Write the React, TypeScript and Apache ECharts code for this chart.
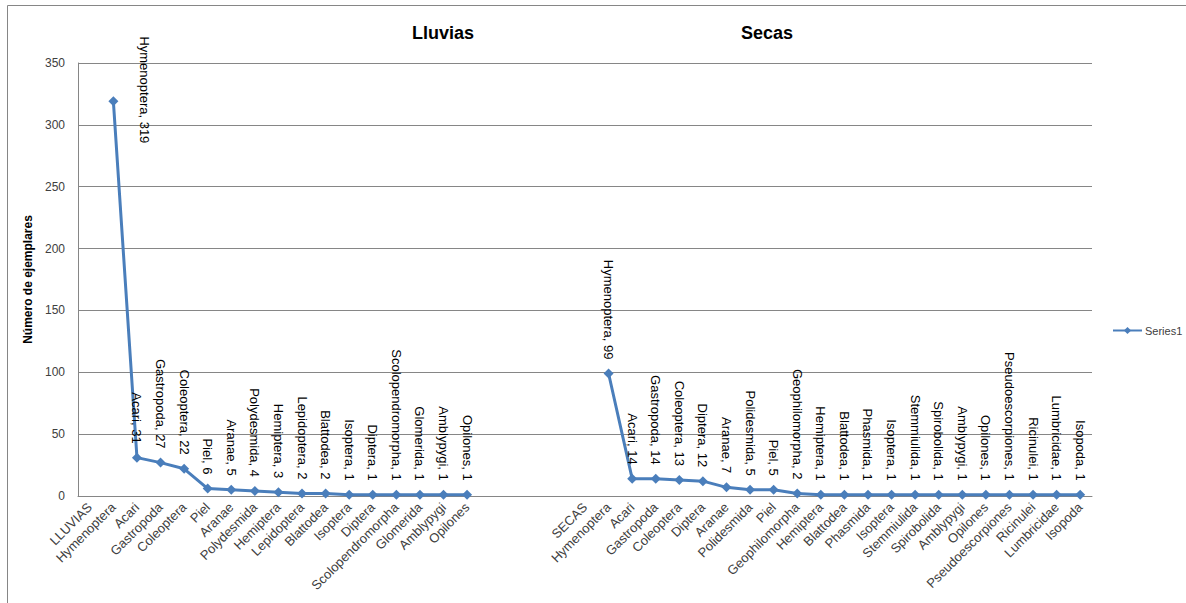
import React, { useEffect, useRef } from "react";
import * as echarts from "echarts";

// Rainy-season (lluvias) taxa and specimen counts
const lluviasCategories = [
  "LLUVIAS", "Hymenoptera", "Acari", "Gastropoda", "Coleoptera", "Piel", "Aranae",
  "Polydesmida", "Hemiptera", "Lepidoptera", "Blattodea", "Isoptera", "Diptera",
  "Scolopendromorpha", "Glomerida", "Amblypygi", "Opilones",
];
const lluviasValues: (number | null)[] = [
  null, 319, 31, 27, 22, 6, 5, 4, 3, 2, 2, 1, 1, 1, 1, 1, 1,
];

// Empty slots separating the two seasons
const gapCategories = ["", "", "", ""];
const gapValues: (number | null)[] = [null, null, null, null];

// Dry-season (secas) taxa and specimen counts
const secasCategories = [
  "SECAS", "Hymenoptera", "Acari", "Gastropoda", "Coleoptera", "Diptera", "Aranae",
  "Polidesmida", "Piel", "Geophilomorpha", "Hemiptera", "Blattodea", "Phasmida",
  "Isoptera", "Stemmiulida", "Spirobolida", "Amblypygi", "Opilones",
  "Pseudoescorpiones", "Ricinulei", "Lumbricidae", "Isopoda",
];
const secasValues: (number | null)[] = [
  null, 99, 14, 14, 13, 12, 7, 5, 5, 2, 1, 1, 1, 1, 1, 1, 1, 1, 1, 1, 1, 1,
];

const yTicks = { min: 0, max: 350, interval: 50 };
const seriesName = "Series1";
const yAxisTitle = "Número de ejemplares";
const panelTitles = ["Lluvias", "Secas"];

const FONT = "'Liberation Sans', Arial, sans-serif";
const LINE_COLOR = "#4A7EBB";
const GRID_COLOR = "#868686";

export default function App() {
  const ref = useRef<HTMLDivElement>(null);

  useEffect(() => {
    if (!ref.current) return;
    const chart = echarts.init(ref.current, undefined, { renderer: "svg" });

    const categories = [...lluviasCategories, ...gapCategories, ...secasCategories];
    const values = [...lluviasValues, ...gapValues, ...secasValues];

    // The tallest point's label sits beside its marker so it stays inside the frame.
    // The offset is given in the label's rotated frame.
    const peak = Math.max(...(values.filter((v) => v != null) as number[]));
    const seriesData = values.map((v) =>
      v === peak ? { value: v, label: { offset: [56, -31] } } : v
    );

    chart.setOption({
      animation: false,
      backgroundColor: "#ffffff",
      textStyle: { fontFamily: FONT },
      grid: { left: 78, right: 94, top: 63, bottom: 107 },
      graphic: [
        {
          type: "rect",
          silent: true,
          z: -10,
          shape: { x: 7.5, y: 5.5, width: 1400, height: 900 },
          style: { fill: "none", stroke: GRID_COLOR, lineWidth: 1 },
        },
        {
          type: "text",
          x: 443,
          y: 33,
          style: {
            text: panelTitles[0],
            align: "center",
            verticalAlign: "middle",
            font: `bold 18px ${FONT}`,
            fill: "#000",
          },
        },
        {
          type: "text",
          x: 767,
          y: 33,
          style: {
            text: panelTitles[1],
            align: "center",
            verticalAlign: "middle",
            font: `bold 18px ${FONT}`,
            fill: "#000",
          },
        },
      ],
      legend: {
        data: [seriesName],
        left: 1107,
        top: 320,
        itemWidth: 29,
        itemHeight: 9,
        itemGap: 4,
        textStyle: { fontSize: 11, color: "#404040", fontFamily: FONT, padding: [0, 0, 0, -2] },
      },
      xAxis: {
        type: "category",
        data: categories,
        boundaryGap: true,
        axisTick: { show: false },
        axisLine: { lineStyle: { color: GRID_COLOR, width: 1 } },
        axisLabel: {
          interval: 0,
          rotate: 45,
          margin: 9,
          fontSize: 13,
          color: "#404040",
          fontFamily: FONT,
        },
      },
      yAxis: {
        type: "value",
        min: yTicks.min,
        max: yTicks.max,
        interval: yTicks.interval,
        name: yAxisTitle,
        nameLocation: "middle",
        nameRotate: 90,
        nameGap: 37,
        nameTextStyle: { fontWeight: "bold", fontSize: 12, color: "#000", fontFamily: FONT },
        axisLine: { show: true, lineStyle: { color: GRID_COLOR, width: 1 } },
        axisTick: { show: false },
        splitLine: { lineStyle: { color: GRID_COLOR, width: 1 } },
        axisLabel: { fontSize: 12, color: "#404040", margin: 13, fontFamily: FONT },
      },
      series: [
        {
          name: seriesName,
          type: "line",
          data: seriesData,
          connectNulls: false,
          symbol: "diamond",
          symbolSize: 10,
          lineStyle: { color: LINE_COLOR, width: 3 },
          itemStyle: { color: LINE_COLOR },
          label: {
            show: true,
            position: "top",
            distance: 9,
            rotate: -90,
            align: "right",
            verticalAlign: "middle",
            fontSize: 13,
            color: "#000",
            fontFamily: FONT,
            formatter: (p: any) => `${p.name}, ${p.value}`,
          },
        },
      ],
    });

    return () => chart.dispose();
  }, []);

  return (
    <div
      ref={ref}
      style={{ position: "absolute", left: 0, top: 0, width: 1186, height: 603, background: "#fff" }}
    />
  );
}
